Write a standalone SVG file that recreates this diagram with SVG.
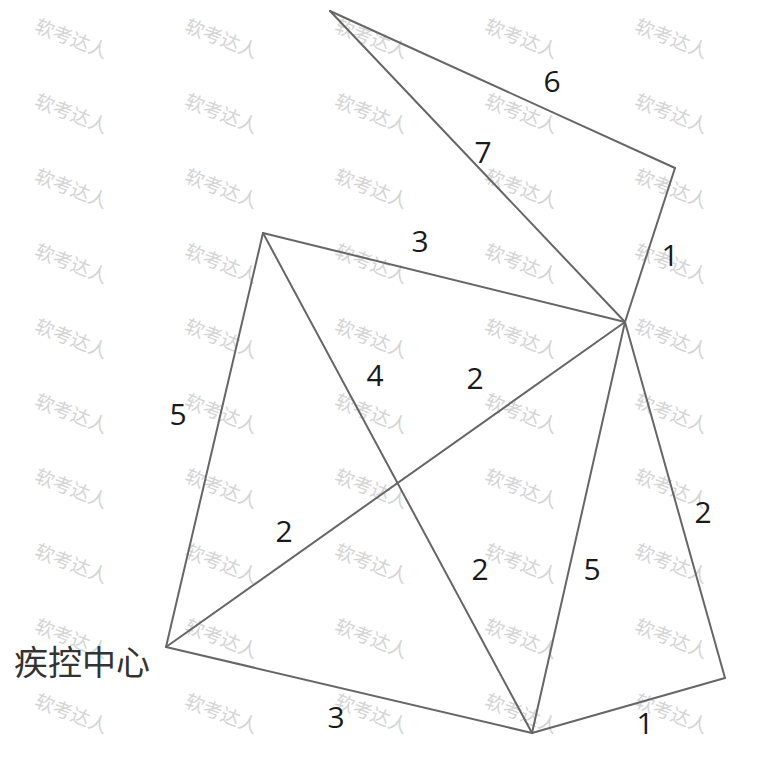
<svg xmlns="http://www.w3.org/2000/svg" width="759" height="759" viewBox="0 0 759 759">
<style>
.wm{font-family:"Noto Sans CJK SC","Noto Sans",sans-serif;font-size:19px;fill:#d4d4d4;text-anchor:middle;dominant-baseline:central}
.e{stroke:#666;stroke-width:2;fill:none;stroke-linecap:round}
.lb{font-family:"Open Sans","Noto Sans",sans-serif;font-size:30px;fill:#1a1a1a;text-anchor:middle;dominant-baseline:central}
.nm{font-family:"Noto Sans CJK SC",sans-serif;font-size:34px;fill:#333;dominant-baseline:central}
</style>
<rect width="759" height="759" fill="#fff"/>
<defs>
<text id="w" class="wm" transform="rotate(21)">软考达人</text>
</defs>
<g id="watermarks">
<g transform="translate(72,37)"><use href="#w"/></g><g transform="translate(222,37)"><use href="#w"/></g><g transform="translate(372,37)"><use href="#w"/></g><g transform="translate(522,37)"><use href="#w"/></g><g transform="translate(672,37)"><use href="#w"/></g>
<g transform="translate(72,112)"><use href="#w"/></g><g transform="translate(222,112)"><use href="#w"/></g><g transform="translate(372,112)"><use href="#w"/></g><g transform="translate(522,112)"><use href="#w"/></g><g transform="translate(672,112)"><use href="#w"/></g>
<g transform="translate(72,187)"><use href="#w"/></g><g transform="translate(222,187)"><use href="#w"/></g><g transform="translate(372,187)"><use href="#w"/></g><g transform="translate(522,187)"><use href="#w"/></g><g transform="translate(672,187)"><use href="#w"/></g>
<g transform="translate(72,262)"><use href="#w"/></g><g transform="translate(222,262)"><use href="#w"/></g><g transform="translate(372,262)"><use href="#w"/></g><g transform="translate(522,262)"><use href="#w"/></g><g transform="translate(672,262)"><use href="#w"/></g>
<g transform="translate(72,337)"><use href="#w"/></g><g transform="translate(222,337)"><use href="#w"/></g><g transform="translate(372,337)"><use href="#w"/></g><g transform="translate(522,337)"><use href="#w"/></g><g transform="translate(672,337)"><use href="#w"/></g>
<g transform="translate(72,412)"><use href="#w"/></g><g transform="translate(222,412)"><use href="#w"/></g><g transform="translate(372,412)"><use href="#w"/></g><g transform="translate(522,412)"><use href="#w"/></g><g transform="translate(672,412)"><use href="#w"/></g>
<g transform="translate(72,487)"><use href="#w"/></g><g transform="translate(222,487)"><use href="#w"/></g><g transform="translate(372,487)"><use href="#w"/></g><g transform="translate(522,487)"><use href="#w"/></g><g transform="translate(672,487)"><use href="#w"/></g>
<g transform="translate(72,562)"><use href="#w"/></g><g transform="translate(222,562)"><use href="#w"/></g><g transform="translate(372,562)"><use href="#w"/></g><g transform="translate(522,562)"><use href="#w"/></g><g transform="translate(672,562)"><use href="#w"/></g>
<g transform="translate(72,637)"><use href="#w"/></g><g transform="translate(222,637)"><use href="#w"/></g><g transform="translate(372,637)"><use href="#w"/></g><g transform="translate(522,637)"><use href="#w"/></g><g transform="translate(672,637)"><use href="#w"/></g>
<g transform="translate(72,712)"><use href="#w"/></g><g transform="translate(222,712)"><use href="#w"/></g><g transform="translate(372,712)"><use href="#w"/></g><g transform="translate(522,712)"><use href="#w"/></g><g transform="translate(672,712)"><use href="#w"/></g>
</g>
<g id="connectors">
<line class="e" x1="330" y1="11" x2="675" y2="168"/>
<line class="e" x1="330" y1="11" x2="625" y2="322"/>
<line class="e" x1="675" y1="168" x2="625" y2="322"/>
<line class="e" x1="263" y1="233" x2="625" y2="322"/>
<line class="e" x1="263" y1="233" x2="166" y2="647"/>
<line class="e" x1="263" y1="233" x2="532" y2="733"/>
<line class="e" x1="166" y1="647" x2="625" y2="322"/>
<line class="e" x1="166" y1="647" x2="532" y2="733"/>
<line class="e" x1="532" y1="733" x2="625" y2="322"/>
<line class="e" x1="625" y1="322" x2="725" y2="678"/>
<line class="e" x1="532" y1="733" x2="725" y2="678"/>
</g>
<g id="edge-labels">
<text class="lb" x="552" y="80">6</text>
<text class="lb" x="483" y="151">7</text>
<text class="lb" x="670" y="254">1</text>
<text class="lb" x="420" y="240">3</text>
<text class="lb" x="375" y="374">4</text>
<text class="lb" x="475" y="377">2</text>
<text class="lb" x="178" y="413">5</text>
<text class="lb" x="284" y="530">2</text>
<text class="lb" x="480" y="568">2</text>
<text class="lb" x="592" y="568">5</text>
<text class="lb" x="703" y="511">2</text>
<text class="lb" x="336" y="716">3</text>
<text class="lb" x="645" y="722">1</text>
</g>
<g id="node-cdc">
<text class="nm" x="14" y="660">疾控中心</text>
</g>
</svg>
